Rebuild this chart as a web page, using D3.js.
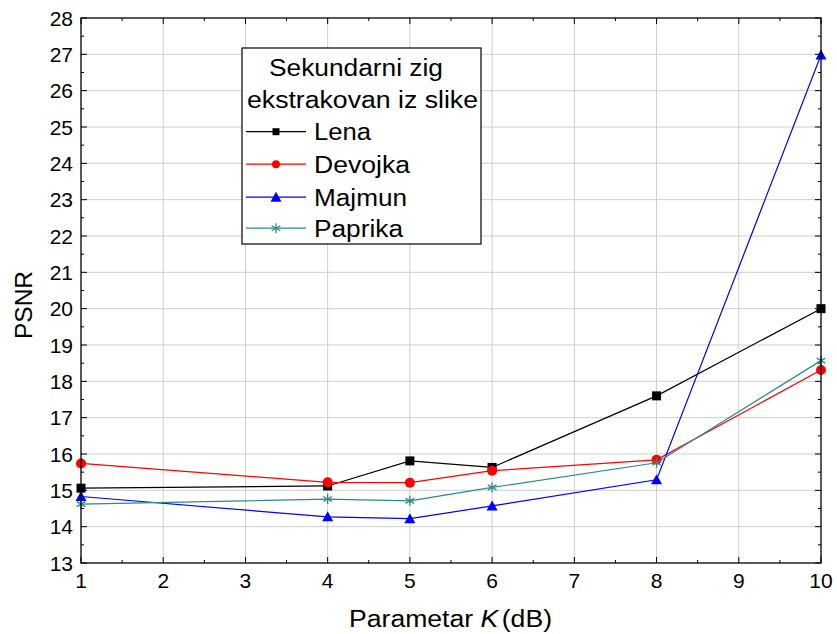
<!DOCTYPE html>
<html><head><meta charset="utf-8">
<script src="https://cdn.jsdelivr.net/npm/d3@7"></script>
<style>body{margin:0;background:#fff;} svg{display:block;font-family:"Liberation Sans",Arial,sans-serif;}</style>
</head><body>
<svg id="c" width="837" height="634"></svg>
<script>
const xValues = [1, 4, 5, 6, 8, 10];
const lena    = [15.06, 15.12, 15.81, 15.63, 17.6, 20.0];
const devojka = [15.74, 15.22, 15.21, 15.54, 15.84, 18.31];
const majmun  = [14.83, 14.27, 14.22, 14.57, 15.29, 26.98];
const paprika = [14.62, 14.76, 14.71, 15.08, 15.76, 18.57];
const seriesNames = ["Lena", "Devojka", "Majmun", "Paprika"];
const seriesColors = ["#000000", "#ff0000", "#0000ff", "#2e8b8b"];
const seriesMarkers = ["square", "circle", "triangle", "asterisk"];
const xTicks = [1,2,3,4,5,6,7,8,9,10];
const yTicks = [13,14,15,16,17,18,19,20,21,22,23,24,25,26,27,28];
const legendTitle = ["Sekundarni zig", "ekstrakovan iz slike"];

const series = [lena, devojka, majmun, paprika].map((v, i) => ({
  name: seriesNames[i], color: seriesColors[i], marker: seriesMarkers[i],
  pts: xValues.map((x, j) => ({x, y: v[j]}))
}));

const svg = d3.select("#c");
const L = 81, R = 821, T = 18, B = 563;
const x = d3.scaleLinear().domain([1, 10]).range([L, R]);
const y = d3.scaleLinear().domain([13, 28]).range([B, T]);

// grid
const g = svg.append("g");
g.selectAll(".gx").data(xTicks.slice(1, -1)).enter().append("line")
  .attr("x1", d => x(d)).attr("x2", d => x(d)).attr("y1", T).attr("y2", B)
  .attr("stroke", "#cfcfcf").attr("stroke-width", 1);
g.selectAll(".gy").data(yTicks.slice(1, -1)).enter().append("line")
  .attr("y1", d => y(d)).attr("y2", d => y(d)).attr("x1", L).attr("x2", R)
  .attr("stroke", "#cfcfcf").attr("stroke-width", 1);

// inward ticks on all four sides
const minorX = d3.range(1.5, 10, 1);
const minorY = d3.range(13.5, 28, 1);
const a = svg.append("g").attr("stroke", "#000").attr("stroke-width", 1);
function tx(list, len){
  list.forEach(t => {
    a.append("line").attr("x1", x(t)).attr("x2", x(t)).attr("y1", B).attr("y2", B - len);
    a.append("line").attr("x1", x(t)).attr("x2", x(t)).attr("y1", T).attr("y2", T + len);
  });
}
function ty(list, len){
  list.forEach(t => {
    a.append("line").attr("y1", y(t)).attr("y2", y(t)).attr("x1", L).attr("x2", L + len);
    a.append("line").attr("y1", y(t)).attr("y2", y(t)).attr("x1", R).attr("x2", R - len);
  });
}
tx(xTicks, 6); tx(minorX, 3); ty(yTicks, 6); ty(minorY, 3);

// tick labels
svg.append("g").selectAll("text").data(xTicks).enter().append("text")
  .attr("x", d => x(d)).attr("y", 588).attr("text-anchor", "middle")
  .attr("font-size", 21).text(d => d);
svg.append("g").selectAll("text").data(yTicks).enter().append("text")
  .attr("x", 73).attr("y", d => y(d) + 7.5).attr("text-anchor", "end")
  .attr("font-size", 21).text(d => d);

// axis titles
const xt = svg.append("text").attr("x", 349).attr("y", 627).attr("font-size", 23)
  .attr("textLength", 203).attr("lengthAdjust", "spacingAndGlyphs");
xt.append("tspan").text("Parametar ");
xt.append("tspan").attr("font-style", "italic").text("K");
xt.append("tspan").attr("dx", 3).text("(dB)");
svg.append("text").attr("transform", "translate(31.5,305) rotate(-90)").attr("text-anchor", "middle")
  .attr("font-size", 24.5).text("PSNR");

// markers
function drawMarker(sel, type, color, cx, cy){
  if (type === "square") {
    sel.append("rect").attr("x", cx - 4.5).attr("y", cy - 4.5).attr("width", 9).attr("height", 9).attr("fill", color);
  } else if (type === "circle") {
    sel.append("circle").attr("cx", cx).attr("cy", cy).attr("r", 5).attr("fill", color);
  } else if (type === "triangle") {
    sel.append("path").attr("d", `M${cx},${cy-5.5}L${cx+5.5},${cy+4.5}L${cx-5.5},${cy+4.5}Z`).attr("fill", color);
  } else {
    const r = 5;
    const p = [[0,-r],[0,r],[-r*0.87,-r*0.5],[r*0.87,r*0.5],[-r*0.87,r*0.5],[r*0.87,-r*0.5]];
    sel.append("path").attr("d", `M${cx+p[0][0]},${cy+p[0][1]}L${cx+p[1][0]},${cy+p[1][1]}M${cx+p[2][0]},${cy+p[2][1]}L${cx+p[3][0]},${cy+p[3][1]}M${cx+p[4][0]},${cy+p[4][1]}L${cx+p[5][0]},${cy+p[5][1]}`)
      .attr("stroke", color).attr("stroke-width", 1.3).attr("fill", "none");
  }
}

svg.append("clipPath").attr("id", "pc").append("rect").attr("x", L - 8).attr("y", T - 8).attr("width", R - L + 16).attr("height", B - T + 16);
const plot = svg.append("g").attr("clip-path", "url(#pc)");
const line = d3.line().x(d => x(d.x)).y(d => y(d.y));
series.forEach(s => {
  plot.append("path").datum(s.pts).attr("d", line).attr("fill", "none").attr("stroke", s.color).attr("stroke-width", 1.2);
});
series.forEach(s => {
  s.pts.forEach(p => drawMarker(plot, s.marker, s.color, x(p.x), y(p.y)));
});

// frame
svg.append("rect").attr("x", L).attr("y", T).attr("width", R - L).attr("height", B - T)
  .attr("fill", "none").attr("stroke", "#000").attr("stroke-width", 1.3);

// legend
const lg = svg.append("g");
lg.append("rect").attr("x", 242).attr("y", 48).attr("width", 239).attr("height", 196)
  .attr("fill", "#fff").attr("stroke", "#000").attr("stroke-width", 1.2);
const titleX = [269, 247], titleY = [76, 108], titleW = [174, 231];
legendTitle.forEach((t, i) => {
  lg.append("text").attr("x", titleX[i]).attr("y", titleY[i]).attr("font-size", 23)
    .attr("textLength", titleW[i]).attr("lengthAdjust", "spacingAndGlyphs").text(t);
});
const nameW = [57, 96, 93, 89];
const nameY = [140, 172.5, 205.5, 236.5];
series.forEach((s, i) => {
  const cy = nameY[i] - 8.3;
  lg.append("line").attr("x1", 246).attr("x2", 306).attr("y1", cy).attr("y2", cy)
    .attr("stroke", s.color).attr("stroke-width", 1.2);
  const m = lg.append("g");
  if (s.marker === "square") m.append("rect").attr("x", 272.5).attr("y", cy - 3.5).attr("width", 7).attr("height", 7).attr("fill", s.color);
  else if (s.marker === "circle") m.append("circle").attr("cx", 276).attr("cy", cy).attr("r", 4).attr("fill", s.color);
  else drawMarker(m, s.marker, s.color, 276, cy);
  lg.append("text").attr("x", 314).attr("y", nameY[i]).attr("font-size", 23)
    .attr("textLength", nameW[i]).attr("lengthAdjust", "spacingAndGlyphs").text(s.name);
});
</script>
</body></html>
